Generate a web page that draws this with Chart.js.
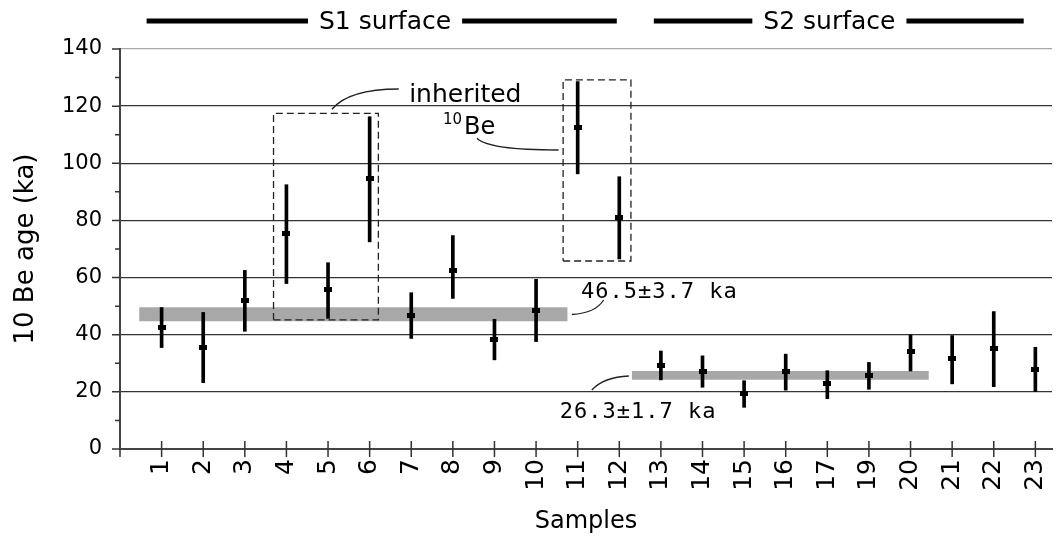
<!DOCTYPE html>
<html><head><meta charset="utf-8">
<script src="https://cdn.jsdelivr.net/npm/chart.js@4/dist/chart.umd.min.js"></script>
<style>html,body{margin:0;padding:0;background:#fff;}canvas{display:block;}</style>
</head><body>
<canvas id="c" width="1057" height="547"></canvas>
<script>
// ---- data ----
const sampleLabels = ['1','2','3','4','5','6','7','8','9','10','11','12','13','14','15','16','17','19','20','21','22','23'];
const ages     = [42.7, 35.7, 52.0, 75.4, 55.7, 94.6, 46.8, 62.5, 38.5, 48.5, 112.6, 81.2, 29.4, 27.2, 19.6, 27.2, 23.0, 25.9, 34.1, 31.7, 35.2, 28.0];
const ageLow   = [35.5, 23.2, 41.2, 57.9, 45.7, 72.5, 38.7, 52.7, 31.2, 37.6, 96.3, 66.5, 24.2, 21.6, 14.6, 20.6, 17.6, 20.9, 27.3, 22.8, 21.8, 20.1];
const ageHigh  = [49.5, 47.8, 62.5, 92.5, 65.2, 116.3, 54.7, 74.7, 45.4, 59.4, 128.6, 95.3, 34.3, 32.6, 23.9, 33.2, 27.4, 30.3, 39.9, 39.7, 48.1, 35.6];
const yTickValues = [0, 20, 40, 60, 80, 100, 120, 140];
const yMinorValues = [10, 30, 50, 70, 90, 110, 130];
const s1BandX = [0.46, 10.76], s1BandY = [44.7, 49.6];
const s2BandX = [12.3, 19.44], s2BandY = [24.2, 27.3];
const box1X = [3.69, 6.21], box1Y = [45.2, 117.5];
const box2X = [10.65, 12.28], box2Y = [65.8, 129.2];
const surfaceNames = ['S1 surface', 'S2 surface'];
const surfaceSpans = [[0.64, 11.94], [12.83, 21.72]];
const surfaceCenters = [6.37, 17.05];

const xs = sampleLabels.map((_, i) => i + 1);

const marker = document.createElement('canvas');
marker.width = 8; marker.height = 5;
marker.getContext('2d').fillRect(0, 0, 8, 5);

function bandSets(X, Y) {
  return [
    {type:'line', data:[{x:X[0],y:Y[1]},{x:X[1],y:Y[1]}], borderWidth:0, borderColor:'rgba(0,0,0,0)', pointRadius:0, fill:false, order:10},
    {type:'line', data:[{x:X[0],y:Y[0]},{x:X[1],y:Y[0]}], borderWidth:0, borderColor:'rgba(0,0,0,0)', pointRadius:0, fill:'-1', backgroundColor:'#a8a8a8', order:10}
  ];
}
function boxSet(X, Y) {
  return {type:'line', data:[{x:X[0],y:Y[0]},{x:X[1],y:Y[0]},{x:X[1],y:Y[1]},{x:X[0],y:Y[1]},{x:X[0],y:Y[0]}],
    borderColor:'#222', borderWidth:1.3, borderDash:[7,4], pointRadius:0, fill:false, tension:0, order:5};
}

const notes = [
  {text:'inherited', x:6.95, y:121.3, font:'25px "DejaVu Sans"', align:'left'},
  {text:'10', x:8.22, y:113.6, font:'15px "DejaVu Sans"', align:'right'},
  {text:'Be', x:8.27, y:110.2, font:'24px "DejaVu Sans"', align:'left'},
  {text:'46.5±3.7 ka', x:11.08, y:52.75, font:'22px "DejaVu Sans Mono"', align:'left', ls:'1px'},
  {text:'26.3±1.7 ka', x:10.57, y:10.75, font:'22px "DejaVu Sans Mono"', align:'left', ls:'1px'}
];
const leaders = [
  [[5.094,118.9],[5.5,126.0],[6.70,126.0]],
  [[8.58,108.75],[8.86,104.65],[10.54,104.65]],
  [[10.86,47.08],[11.43,47.6],[11.625,52.15]],
  [[11.34,20.65],[11.63,25.2],[12.23,25.55]]
];

const decor = {
  id:'decor',
  afterDatasetsDraw(chart) {
    const {ctx, scales:{x, y}, chartArea:a} = chart;
    ctx.save();
    ctx.strokeStyle = '#222'; ctx.lineWidth = 1.3;
    leaders.forEach(L => {
      ctx.beginPath();
      ctx.moveTo(x.getPixelForValue(L[0][0]), y.getPixelForValue(L[0][1]));
      ctx.quadraticCurveTo(x.getPixelForValue(L[1][0]), y.getPixelForValue(L[1][1]), x.getPixelForValue(L[2][0]), y.getPixelForValue(L[2][1]));
      ctx.stroke();
    });
    ctx.fillStyle = '#000'; ctx.textBaseline = 'alphabetic';
    notes.forEach(n => {
      ctx.font = n.font; ctx.textAlign = n.align;
      ctx.letterSpacing = n.ls || '0px';
      ctx.fillText(n.text, x.getPixelForValue(n.x), y.getPixelForValue(n.y));
    });
    ctx.letterSpacing = '0px';
    ctx.strokeStyle = '#333'; ctx.lineWidth = 1.5;
    ctx.beginPath();
    yTickValues.forEach(v => { const p = y.getPixelForValue(v); ctx.moveTo(a.left - 8, p); ctx.lineTo(a.left, p); });
    yMinorValues.forEach(v => { const p = y.getPixelForValue(v); ctx.moveTo(a.left - 5, p); ctx.lineTo(a.left, p); });
    xs.forEach(v => { const p = x.getPixelForValue(v); ctx.moveTo(p, a.bottom - 8); ctx.lineTo(p, a.bottom + 8); });
    ctx.moveTo(a.left, a.bottom); ctx.lineTo(a.left, a.bottom + 8);
    ctx.stroke();
    const hy = a.top - 28;
    ctx.font = '25px "DejaVu Sans"'; ctx.textAlign = 'center'; ctx.textBaseline = 'middle';
    ctx.strokeStyle = '#000'; ctx.lineWidth = 5;
    surfaceNames.forEach((name, i) => {
      const cx = x.getPixelForValue(surfaceCenters[i]);
      const w = ctx.measureText(name).width;
      const x0 = x.getPixelForValue(surfaceSpans[i][0]), x1 = x.getPixelForValue(surfaceSpans[i][1]);
      ctx.beginPath();
      ctx.moveTo(x0, hy); ctx.lineTo(cx - w/2 - 11, hy);
      ctx.moveTo(cx + w/2 + 11, hy); ctx.lineTo(x1, hy);
      ctx.stroke();
      ctx.fillText(name, cx, hy + 1);
    });
    ctx.restore();
  }
};

Chart.defaults.font.family = '"DejaVu Sans"';
Chart.defaults.color = '#000';

new Chart(document.getElementById('c'), {
  type: 'scatter',
  data: {
    datasets: [
      ...bandSets(s1BandX, s1BandY),
      ...bandSets(s2BandX, s2BandY),
      boxSet(box1X, box1Y),
      boxSet(box2X, box2Y),
      {type:'bar', data: xs.map((v, i) => ({x:v, y:[ageLow[i], ageHigh[i]]})), backgroundColor:'#000', barThickness:3, grouped:false, order:2},
      {type:'scatter', data: xs.map((v, i) => ({x:v, y:ages[i]})), pointStyle: marker, pointRadius:4, order:1}
    ]
  },
  options: {
    responsive:false, animation:false, events:[],
    layout:{padding:{top:49, right:4, left:0, bottom:0}},
    plugins:{legend:{display:false}, tooltip:{enabled:false}},
    scales:{
      x:{
        type:'linear', min:0, max:22.4, offset:false,
        afterBuildTicks: s => { s.ticks = xs.map(v => ({value:v})); },
        afterFit: s => { s.height = 98; s.paddingLeft = 0; s.paddingRight = 0; },
        ticks:{callback: v => sampleLabels[v - 1] ?? '', minRotation:90, maxRotation:90, autoSkip:false, font:{size:25}, color:'#000', padding:10},
        grid:{drawOnChartArea:false, drawTicks:false, offset:false},
        border:{color:'#444', width:2},
        title:{display:true, text:'Samples', font:{size:24}, color:'#000', padding:{top:0, bottom:11}}
      },
      y:{
        min:0, max:140,
        afterBuildTicks: s => { s.ticks = yTickValues.map(v => ({value:v})); },
        afterFit: s => { s.width = 120; },
        ticks:{font:{size:21}, color:'#000', padding:18},
        grid:{drawTicks:false, lineWidth:1.3, color: c => c.tick && c.tick.value === 140 ? '#aaa' : (c.tick && c.tick.value === 0 ? 'rgba(0,0,0,0)' : '#333')},
        border:{color:'#444', width:2},
        title:{display:true, text:'10 Be age (ka)', font:{size:26}, color:'#000', padding:{top:11, bottom:0}}
      }
    }
  },
  plugins:[decor]
});
</script>
</body></html>
